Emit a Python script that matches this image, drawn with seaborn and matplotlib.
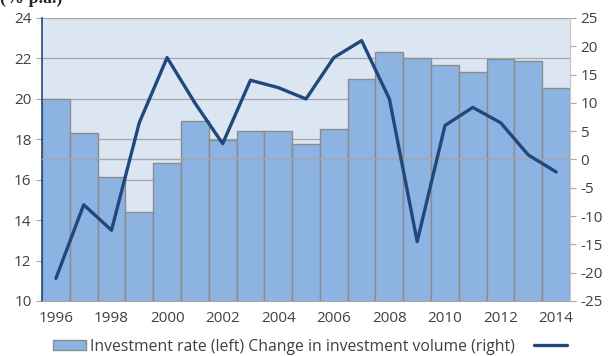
import numpy as np
import pandas as pd
import matplotlib
matplotlib.use("Agg")
import matplotlib.pyplot as plt
import seaborn as sns
from matplotlib.patches import Patch
from matplotlib.lines import Line2D

years = list(range(1996, 2015))
investment_rate = [20.0, 18.3, 16.15, 14.4, 16.85, 18.9, 17.95, 18.4, 18.4, 17.75,
                   18.5, 21.0, 22.3, 22.0, 21.65, 21.35, 21.95, 21.85, 20.55]
volume_change = [-21.0, -8.0, -12.5, 6.5, 18.0, 10.0, 2.8, 14.0, 12.7, 10.7,
                 18.0, 21.0, 10.7, -14.5, 6.0, 9.2, 6.5, 0.8, -2.2]
tick_years = [str(y) if y % 2 == 0 else "" for y in years]

df = pd.DataFrame({"year": [str(y) for y in years],
                   "rate": investment_rate,
                   "change": volume_change,
                   "pos": np.arange(len(years))})

sns.set_style("white")
plt.rcParams['font.family'] = ['Open Sans', 'DejaVu Sans']
plt.rcParams['axes.unicode_minus'] = False

bar_col = "#8db3e2"
line_col = "#1f497d"
grid_col = "#a6a6a6"
txt_col = "#404040"

fig = plt.figure(figsize=(6.09, 3.56), dpi=100)
ax = fig.add_axes([0.069, 0.1545, 0.867, 0.795])
ax.set_facecolor("#dce6f2")

sns.barplot(data=df, x="year", y="rate", color=bar_col, width=1.0,
            edgecolor="#8c8c8c", linewidth=1.0, saturation=1, ax=ax, zorder=2)
ax.set_ylim(10, 24)
ax.set_xlim(-0.5, len(years) - 0.5)
ax.set_yticks(range(10, 25, 2))
ax.yaxis.grid(True, color=grid_col, linewidth=0.9)
ax.set_axisbelow(True)
ax.set_xticks(np.arange(len(years)))
ax.set_xticklabels(tick_years)
ax.set_xticks(np.arange(len(years) + 1) - 0.5, minor=True)
ax.tick_params(axis="x", which="major", length=0, labelsize=11, colors=txt_col, pad=7)
ax.tick_params(axis="x", which="minor", length=4, color=grid_col)
ax.tick_params(axis="y", length=4, color=grid_col, labelsize=11, labelcolor=txt_col, left=True)
ax.set_xlabel("")
ax.set_ylabel("")
ax.spines["top"].set_visible(False)
ax.spines["left"].set_color(line_col)
ax.spines["left"].set_linewidth(1.2)
ax.spines["bottom"].set_color(grid_col)
ax.spines["right"].set_color("#c8c8c8")

ax2 = ax.twinx()
ax2.axhline(0, color=grid_col, linewidth=1.0, zorder=1)
sns.lineplot(data=df, x="pos", y="change", color=line_col, linewidth=2.4, ax=ax2, zorder=3)
ax2.set_ylim(-25, 25)
ax2.set_yticks(range(-25, 26, 5))
ax2.tick_params(axis="y", length=4, color=grid_col, labelsize=11, labelcolor=txt_col, right=True)
ax2.set_ylabel("")
ax2.set_xlabel("")
ax2.spines["top"].set_visible(False)
ax2.spines["left"].set_visible(False)
ax2.spines["bottom"].set_visible(False)
ax2.spines["right"].set_color("#c8c8c8")

handles = [Patch(facecolor=bar_col, edgecolor="#8c8c8c"),
           Line2D([], [], color=line_col, linewidth=2.4)]
labels = ["Investment rate (left) Change in investment volume (right)", ""]
fig.legend(handles, labels, loc="lower left", bbox_to_anchor=(53 / 609, 0.004), ncol=2,
           frameon=False, fontsize=11.3, handlelength=2.1, handleheight=0.6,
           handletextpad=0.25, columnspacing=1.2, borderpad=0, borderaxespad=0,
           labelcolor=txt_col)

fig.text(0.0, 1.005, "(% p.a.)", fontsize=13, fontweight="bold",
         family="Liberation Serif", va="center", ha="left")

fig.savefig("out.png", dpi=100)
